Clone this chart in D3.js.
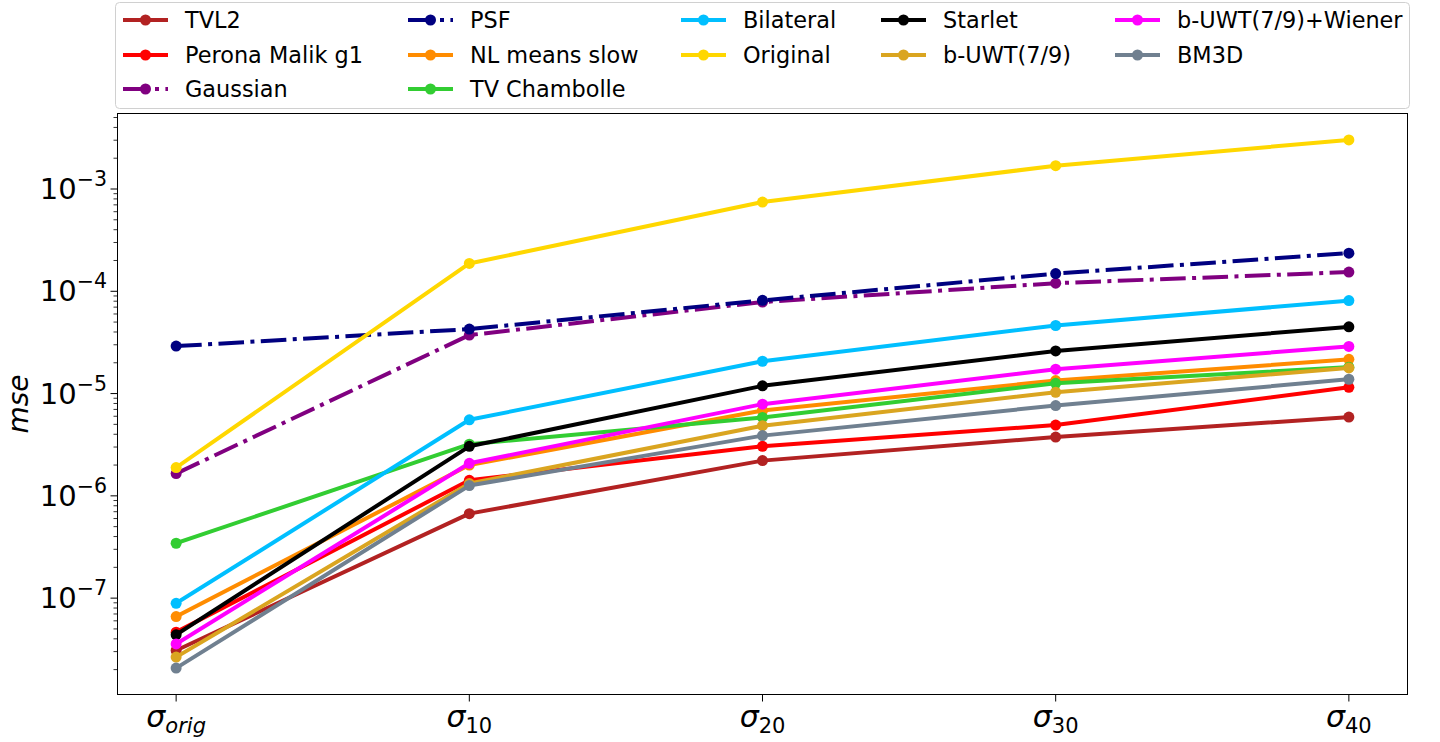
<!DOCTYPE html>
<html><head><meta charset="utf-8">
<script src="https://cdn.jsdelivr.net/npm/d3@7"></script>
<style>
html,body{margin:0;padding:0;background:#fff;}
svg{display:block;font-family:"DejaVu Sans",sans-serif;}
</style></head>
<body><svg id="chart" width="1440" height="742"></svg>
<script>
const categories = ["orig", "10", "20", "30", "40"];
const seriesNames = ["TVL2", "Perona Malik g1", "Gaussian", "PSF", "NL means slow", "TV Chambolle",
  "Bilateral", "Original", "Starlet", "b-UWT(7/9)", "b-UWT(7/9)+Wiener", "BM3D"];
const seriesColors = ["#b22222", "#ff0000", "#800080", "#000080", "#ff8c00", "#32cd32",
  "#00bfff", "#ffd700", "#000000", "#daa520", "#ff00ff", "#708090"];
const seriesDashed = [false, false, true, true, false, false, false, false, false, false, false, false];
const tvl2      = [3.08e-8, 6.7e-7, 2.21e-6, 3.76e-6, 5.89e-6];
const perona    = [4.65e-8, 1.42e-6, 3.05e-6, 4.92e-6, 1.15e-5];
const gaussian  = [1.65e-6, 3.73e-5, 7.85e-5, 1.20e-4, 1.54e-4];
const psf       = [2.91e-5, 4.27e-5, 8.15e-5, 1.49e-4, 2.36e-4];
const nlmeans   = [6.6e-8, 2.0e-6, 6.84e-6, 1.34e-5, 2.16e-5];
const tvcham    = [3.44e-7, 3.2e-6, 5.84e-6, 1.26e-5, 1.81e-5];
const bilateral = [8.9e-8, 5.54e-6, 2.07e-5, 4.63e-5, 8.11e-5];
const original  = [1.89e-6, 1.87e-4, 7.46e-4, 1.69e-3, 3.02e-3];
const starlet   = [4.38e-8, 3.05e-6, 1.19e-5, 2.61e-5, 4.49e-5];
const buwt      = [2.65e-8, 1.32e-6, 4.85e-6, 1.03e-5, 1.78e-5];
const buwtw     = [3.57e-8, 2.08e-6, 7.88e-6, 1.73e-5, 2.89e-5];
const bm3d      = [2.07e-8, 1.26e-6, 3.88e-6, 7.64e-6, 1.38e-5];
const seriesValues = [tvl2, perona, gaussian, psf, nlmeans, tvcham, bilateral, original, starlet, buwt, buwtw, bm3d];
const yTickExps = [-7, -6, -5, -4, -3];

const svg = d3.select("#chart");
const L = 117.5, R = 1407.5, T = 113.5, B = 694.5;

const allVals = seriesValues.flat();
const lmin = Math.log10(d3.min(allVals)), lmax = Math.log10(d3.max(allVals));
const m = (lmax - lmin) * 0.05;
const y = d3.scaleLog().domain([Math.pow(10, lmin - m), Math.pow(10, lmax + m)]).range([B, T]);
const x = d3.scaleLinear().domain([-0.2, categories.length - 1 + 0.2]).range([L, R]);

// minor ticks
const minor = [];
for (let e = -9; e <= -2; e++) for (let k = 2; k <= 9; k++) {
  const v = k * Math.pow(10, e);
  if (v >= y.domain()[0] && v <= y.domain()[1]) minor.push(v);
}
svg.append("g").selectAll("line").data(minor).join("line")
  .attr("x1", L - 4).attr("x2", L).attr("y1", d => y(d)).attr("y2", d => y(d))
  .attr("stroke", "#000").attr("stroke-width", 0.8);
// major ticks
svg.append("g").selectAll("line").data(yTickExps).join("line")
  .attr("x1", L - 7).attr("x2", L).attr("y1", d => y(Math.pow(10, d))).attr("y2", d => y(Math.pow(10, d)))
  .attr("stroke", "#000").attr("stroke-width", 1);
const yl = svg.append("g").selectAll("text").data(yTickExps).join("text")
  .attr("x", 107).attr("y", d => y(Math.pow(10, d)) + 10)
  .attr("text-anchor", "end").attr("font-size", 29).attr("fill", "#000");
yl.append("tspan").text("10");
yl.append("tspan").attr("dy", -13).attr("font-size", 20.5).text(d => "\u2212" + Math.abs(d));

// x ticks
svg.append("g").selectAll("line").data(categories).join("line")
  .attr("x1", (d, i) => x(i)).attr("x2", (d, i) => x(i)).attr("y1", B).attr("y2", B + 7)
  .attr("stroke", "#000").attr("stroke-width", 1);
const xl = svg.append("g").selectAll("text").data(categories).join("text")
  .attr("x", (d, i) => x(i)).attr("y", 727).attr("text-anchor", "middle").attr("fill", "#000");
xl.append("tspan").attr("font-size", 30).attr("font-style", "italic").text("\u03c3");
xl.append("tspan").attr("font-size", 21).attr("dy", 6)
  .attr("font-style", d => isNaN(+d) ? "italic" : "normal").text(d => d);

// y label
svg.append("text").attr("transform", "translate(28,404) rotate(-90)")
  .attr("text-anchor", "middle").attr("font-size", 28).attr("font-style", "italic").text("mse");

// series
const line = d3.line().x((d, i) => x(i)).y(d => y(d));
const dash = "25.6,6.4,4,6.4";
seriesValues.forEach((vals, s) => {
  const g = svg.append("g");
  g.append("path").attr("d", line(vals)).attr("fill", "none")
    .attr("stroke", seriesColors[s]).attr("stroke-width", 4)
    .attr("stroke-dasharray", seriesDashed[s] ? dash : null)
    .attr("stroke-linejoin", "round").attr("stroke-linecap", seriesDashed[s] ? "butt" : "square");
  g.selectAll("circle").data(vals).join("circle")
    .attr("cx", (d, i) => x(i)).attr("cy", d => y(d)).attr("r", 5.5).attr("fill", seriesColors[s]);
});

// frame
svg.append("rect").attr("x", L).attr("y", T).attr("width", R - L).attr("height", B - T)
  .attr("fill", "none").attr("stroke", "#000").attr("stroke-width", 1);

// legend
const lg = svg.append("g");
lg.append("rect").attr("x", 115.5).attr("y", 2.5).attr("width", 1294).attr("height", 106).attr("rx", 4)
  .attr("fill", "#fff").attr("fill-opacity", 0.8).attr("stroke", "#d0d0d0").attr("stroke-width", 1);
const colText = [185, 470, 743, 943, 1177];
const rowY = [20, 55, 89];
const perCol = [3, 3, 2, 2, 2];
let idx = 0;
perCol.forEach((n, c) => {
  for (let r = 0; r < n; r++, idx++) {
    const s = idx;
    const tx = colText[c], cy = rowY[r];
    const x0 = tx - 62, x1 = tx - 17;
    lg.append("line").attr("x1", x0).attr("x2", x1).attr("y1", cy).attr("y2", cy)
      .attr("stroke", seriesColors[s]).attr("stroke-width", 4)
      .attr("stroke-dasharray", seriesDashed[s] ? dash : null);
    lg.append("circle").attr("cx", (x0 + x1) / 2).attr("cy", cy).attr("r", 5.5).attr("fill", seriesColors[s]);
    lg.append("text").attr("x", tx).attr("y", cy + 8).attr("font-size", 22.4).attr("fill", "#000").text(seriesNames[s]);
  }
});
</script></body></html>
